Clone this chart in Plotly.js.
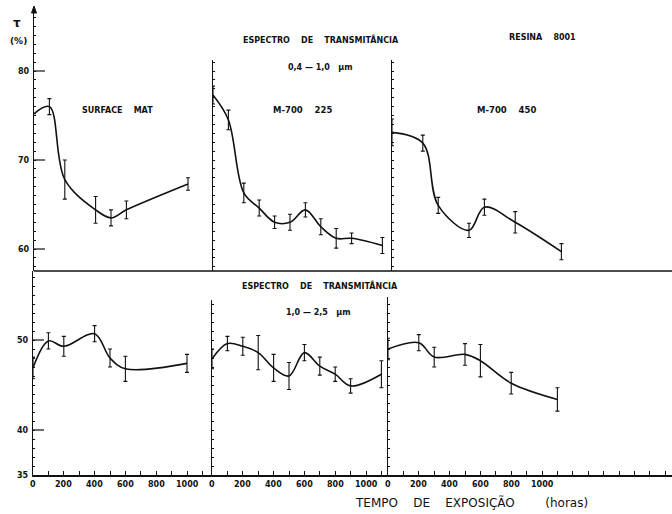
<!DOCTYPE html>
<html>
<head>
<meta charset="utf-8">
<script src="https://cdn.plot.ly/plotly-3.0.1.min.js"></script>
<style>html,body{margin:0;padding:0;background:#fff;}#chart{width:672px;height:514px;}</style>
</head>
<body>
<div id="chart"></div>
<script>
// ---- data (hours of exposure, transmittance %, error) ----
// Top row: 0.4 - 1.0 um
const hoursSurfaceTop = [0, 100, 200, 400, 500, 600, 1000];
const tauSurfaceTop   = [75.2, 76.0, 67.8, 64.4, 63.5, 64.4, 67.3];
const errSurfaceTop   = [0.0, 0.9, 2.2, 1.5, 0.9, 1.0, 0.7];

const hoursM225Top = [0, 100, 200, 300, 400, 500, 600, 700, 800, 900, 1100];
const tauM225Top   = [77.3, 74.5, 66.3, 64.6, 63.0, 63.0, 64.4, 62.5, 61.2, 61.2, 60.4];
const errM225Top   = [1.0, 1.1, 1.1, 0.9, 0.7, 0.9, 0.8, 0.9, 1.1, 0.6, 0.9];

const hoursM450Top = [0, 200, 300, 500, 600, 800, 1100];
const tauM450Top   = [73.1, 71.9, 64.9, 62.1, 64.7, 63.0, 59.7];
const errM450Top   = [1.5, 0.9, 0.9, 0.8, 0.9, 1.2, 0.9];

// Bottom row: 1.0 - 2.5 um
const hoursSurfaceBot = [0, 100, 200, 400, 500, 600, 1000];
const tauSurfaceBot   = [46.9, 49.9, 49.3, 50.7, 48.0, 46.8, 47.4];
const errSurfaceBot   = [1.2, 0.9, 1.1, 0.9, 1.0, 1.4, 1.0];

const hoursM225Bot = [0, 100, 200, 300, 400, 500, 600, 700, 800, 900, 1100];
const tauM225Bot   = [47.9, 49.6, 49.3, 48.6, 46.9, 46.0, 48.6, 47.1, 46.2, 44.9, 46.2];
const errM225Bot   = [1.1, 0.8, 1.0, 1.9, 1.5, 1.5, 0.9, 1.0, 0.8, 0.8, 1.5];

const hoursM450Bot = [0, 200, 300, 500, 600, 800, 1100];
const tauM450Bot   = [49.0, 49.7, 48.1, 48.4, 47.7, 45.2, 43.4];
const errM450Bot   = [1.2, 0.9, 1.1, 1.2, 1.8, 1.2, 1.3];

const xTickVals = [0, 200, 400, 600, 800, 1000];
const xTickText = ['0', '200', '400', '600', '800', '1000'];
const yTopTicks = [60, 70, 80];
const yBotTicks = [40, 50];
const yBotMin = 35;

// ---- drawing ----
const W = 672, H = 514;
const px = v => v / W;
const py = v => 1 - v / H;
const ink = '#111';

function trace(x, y, e, xa, ya) {
  return {
    x: x, y: y, xaxis: xa, yaxis: ya, mode: 'lines', hoverinfo: 'skip',
    line: {shape: 'spline', smoothing: 1, color: ink, width: 1.6},
    error_y: {type: 'data', array: e, visible: true, color: ink, thickness: 1.1, width: 2}
  };
}

const data = [
  trace(hoursSurfaceBot, tauSurfaceBot, errSurfaceBot, 'x', 'y'),
  trace(hoursM225Bot, tauM225Bot, errM225Bot, 'x2', 'y2'),
  trace(hoursM450Bot, tauM450Bot, errM450Bot, 'x3', 'y3'),
  trace(hoursSurfaceTop, tauSurfaceTop, errSurfaceTop, 'x4', 'y4'),
  trace(hoursM225Top, tauM225Top, errM225Top, 'x5', 'y5'),
  trace(hoursM450Top, tauM450Top, errM450Top, 'x6', 'y6')
];

const tickFont = {family: 'DejaVu Sans', size: 8, color: ink, weight: 'bold'};
const s = 0.154; // px per hour

function xBot(l, r, anchor) {
  return {
    domain: [px(l), px(r)], range: [0, (r - l) / s], anchor: anchor,
    showline: true, linecolor: ink, linewidth: 1.5, showgrid: false, zeroline: false,
    tickmode: 'linear', tick0: 0, dtick: 100,
    ticks: 'inside', ticklen: 4, tickcolor: ink,
    showticklabels: false, fixedrange: true
  };
}
function xTop(l, r) {
  return {domain: [px(l), px(r)], range: [0, (r - l) / s], visible: false, fixedrange: true};
}
function yAx(anchor, top, bottom, v0, pxPerUnit) {
  return {
    anchor: anchor, domain: [py(bottom), py(top)],
    range: [v0, v0 + (bottom - top) / pxPerUnit],
    showline: true, linecolor: ink, linewidth: 1.5, showgrid: false, zeroline: false,
    tickmode: 'linear', tick0: 0, dtick: 1,
    ticks: 'inside', ticklen: 2, tickcolor: ink, tickwidth: 1,
    showticklabels: false, fixedrange: true
  };
}

const topV0 = 60 - 22 / 8.9;   // value at the row separator in the top row
const layout = {
  width: W, height: H,
  margin: {l: 0, r: 0, t: 0, b: 0},
  paper_bgcolor: '#fff', plot_bgcolor: 'rgba(0,0,0,0)',
  showlegend: false,
  font: {family: 'DejaVu Sans', color: ink},
  xaxis: xBot(33, 212, 'y'),
  xaxis2: xBot(212, 388, 'y2'),
  xaxis3: xBot(388, 672, 'y3'),
  xaxis4: xTop(34, 213),
  xaxis5: xTop(213, 392),
  xaxis6: xTop(392, 672),
  yaxis: yAx('x', 271, 475, yBotMin, 9),
  yaxis2: yAx('x2', 300, 475, yBotMin, 9),
  yaxis3: yAx('x3', 297, 475, yBotMin, 9),
  yaxis4: yAx('x4', 10, 271, topV0, 8.9),
  yaxis5: yAx('x5', 60, 271, topV0, 8.9),
  yaxis6: yAx('x6', 60, 271, topV0, 8.9),
  shapes: [
    {type: 'line', xref: 'paper', yref: 'paper', x0: px(34), x1: 1, y0: py(271), y1: py(271),
     line: {color: ink, width: 1.3}},
    {type: 'path', xref: 'paper', yref: 'paper',
     path: `M ${px(31.5)} ${py(13)} L ${px(36.5)} ${py(13)} L ${px(34)} ${py(6)} Z`,
     fillcolor: ink, line: {color: ink, width: 1}}
  ],
  annotations: []
};

// Labelled major ticks, positioned through the axes' own scales
function majorY(yref, xref, vals, widthPx) {
  vals.forEach(v => {
    layout.shapes.push({type: 'line', xref: xref + ' domain', yref: yref, x0: 0, x1: 11 / widthPx, y0: v, y1: v,
      line: {color: ink, width: 1.2}});
    layout.annotations.push({text: String(v), xref: xref + ' domain', yref: yref, x: 0, y: v,
      xanchor: 'right', yanchor: 'middle', xshift: -2, showarrow: false, font: tickFont});
  });
}
function majorX(xref, yref, vals, texts) {
  vals.forEach((v, i) => {
    layout.annotations.push({text: texts[i], xref: xref, yref: yref + ' domain', x: v, y: 0,
      xanchor: 'center', yanchor: 'top', yshift: -3, showarrow: false, font: tickFont});
  });
}
majorY('y4', 'x4', yTopTicks, 179);
majorY('y', 'x', yBotTicks, 179);
layout.annotations.push({text: String(yBotMin), xref: 'x domain', yref: 'y', x: 0, y: yBotMin,
  xanchor: 'right', yanchor: 'middle', xshift: -2, showarrow: false, font: tickFont});
majorX('x', 'y', xTickVals, xTickText);
majorX('x2', 'y2', xTickVals, xTickText);
majorX('x3', 'y3', xTickVals, xTickText);

function addText(text, x, y, size, bold) {
  layout.annotations.push({
    text: text, xref: 'paper', yref: 'paper', x: px(x), y: py(y),
    xanchor: 'center', yanchor: 'middle', showarrow: false,
    font: {family: 'DejaVu Sans', size: size, color: ink, weight: bold ? 'bold' : 'normal'}
  });
}
const sp = '&nbsp;&nbsp;&nbsp;&nbsp;';
addText('τ', 17, 23, 12, true);
addText('(%)', 18, 41, 9, true);
addText('ESPECTRO' + sp + 'DE' + sp + 'TRANSMITÂNCIA', 321, 40, 8, true);
addText('0,4 — 1,0&nbsp;&nbsp;&nbsp;μm', 320, 68, 8, true);
addText('RESINA' + sp + '8001', 542, 38, 8, true);
addText('SURFACE' + sp + 'MAT', 117, 110, 8, true);
addText('M-700' + sp + '225', 302, 110, 8.5, true);
addText('M-700' + sp + '450', 506, 110, 8.5, true);
addText('ESPECTRO' + sp + 'DE' + sp + 'TRANSMITÂNCIA', 320, 285, 8, true);
addText('1,0 — 2,5&nbsp;&nbsp;&nbsp;μm', 318, 312, 8, true);
addText('TEMPO' + sp + 'DE' + sp + 'EXPOSIÇÃO' + sp + sp + '(horas)', 472, 502, 12, false);

Plotly.newPlot('chart', data, layout, {displayModeBar: false, staticPlot: true});
</script>
</body>
</html>
